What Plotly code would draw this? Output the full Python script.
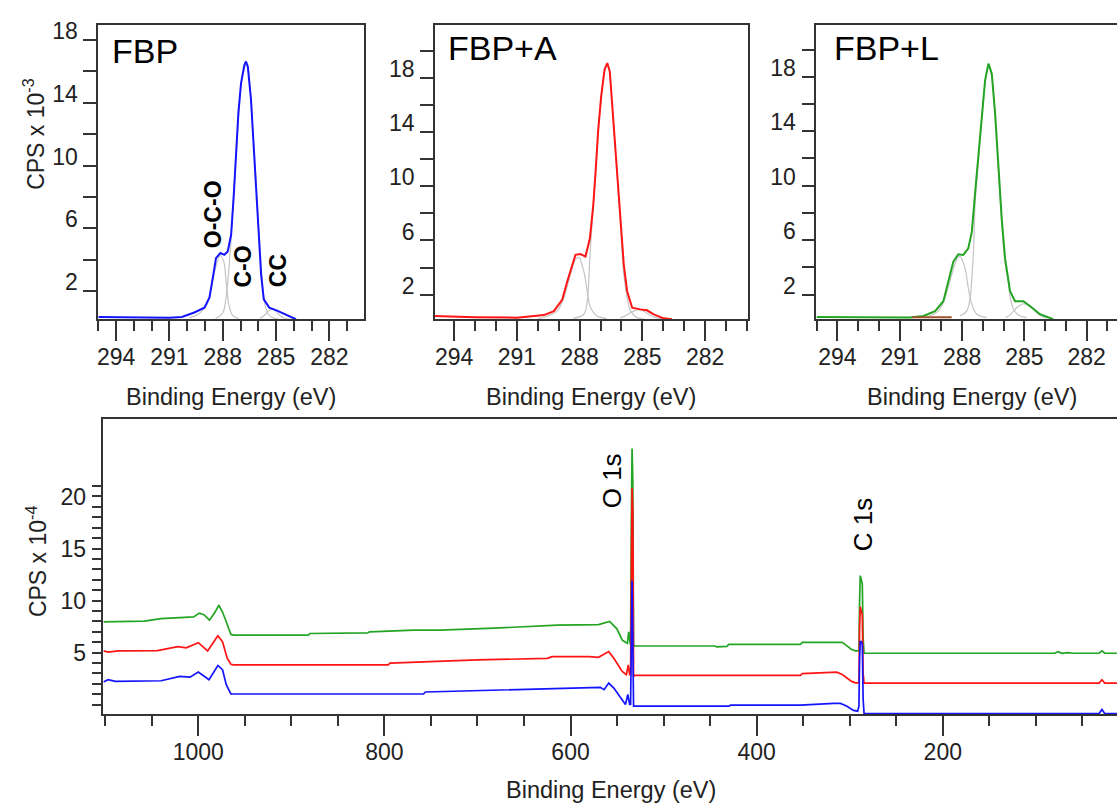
import plotly.graph_objects as go

W, H = 1117, 804

# ---------------- high-resolution C 1s data (CPS x 10^-3) ----------------
# FBP
fbp_be = [295.0, 294.0, 293.0, 292.0, 291.0, 290.3, 289.6, 289.03, 288.75, 288.56, 288.38, 288.13,
          287.91, 287.72, 287.53, 287.38, 287.25, 287.12, 286.97, 286.78, 286.69, 286.59, 286.41,
          286.26, 286.13, 286.0, 285.84, 285.69, 285.38, 284.91, 284.44, 283.88]
fbp_env = [0.35, 0.33, 0.32, 0.3, 0.3, 0.35, 0.63, 0.94, 1.58, 2.84, 4.1, 4.42, 4.31, 4.52, 5.57,
           8.1, 10.63, 13.36, 15.26, 16.42, 16.63, 16.31, 14.21, 11.47, 8.73, 6.0, 3.05, 1.47,
           0.94, 0.73, 0.48, 0.2]
fbp_oco_be = [289.9, 289.4, 289.0, 288.75, 288.55, 288.35, 288.15, 287.95, 287.8, 287.65, 287.45, 287.1]
fbp_oco = [0.3, 0.5, 0.95, 1.6, 2.7, 3.7, 4.25, 3.9, 2.5, 1.1, 0.45, 0.25]
fbp_co_be = [288.4, 288.0, 287.85, 287.7, 287.55, 287.4, 287.25, 287.1, 286.95, 286.75, 286.65,
             286.55, 286.4, 286.25, 286.1, 285.95, 285.8, 285.65, 285.45, 285.2, 284.9]
fbp_co = [0.25, 0.6, 1.3, 2.8, 5.0, 7.9, 10.5, 13.2, 15.2, 16.3, 16.45, 16.1, 14.0, 11.3, 8.5,
          5.6, 3.0, 1.3, 0.55, 0.3, 0.22]
fbp_cc_be = [285.9, 285.6, 285.4, 285.2, 285.0, 284.8, 284.5, 284.2]
fbp_cc = [0.25, 0.5, 0.75, 0.85, 0.7, 0.45, 0.25, 0.2]

# FBP+A
fbpa_be = [295.0, 293.0, 291.0, 290.35, 289.71, 289.23, 288.83, 288.59, 288.35, 288.2, 287.96,
           287.72, 287.51, 287.35, 287.24, 287.11, 286.97, 286.81, 286.68, 286.56, 286.45, 286.29,
           286.13, 286.02, 285.89, 285.73, 285.49, 285.1, 284.78, 284.46, 283.99, 283.59]
fbpa_env = [0.42, 0.33, 0.3, 0.42, 0.49, 0.78, 1.64, 2.98, 4.2, 4.94, 4.99, 4.81, 6.16, 8.6, 11.04,
            14.22, 16.66, 18.61, 19.1, 18.49, 16.17, 12.75, 9.33, 6.64, 4.2, 2.25, 1.03, 0.91,
            0.84, 0.54, 0.25, 0.18]
fbpa_oco_be = [290.0, 289.55, 289.07, 288.75, 288.44, 288.2, 288.04, 287.8, 287.64, 287.48, 287.16, 286.7]
fbpa_oco = [0.22, 0.4, 0.8, 1.8, 3.5, 4.6, 4.75, 3.7, 2.25, 1.05, 0.42, 0.22]
fbpa_co_be = [288.3, 287.8, 287.64, 287.56, 287.48, 287.35, 287.24, 287.11, 286.97, 286.81, 286.68,
              286.56, 286.45, 286.29, 286.13, 286.02, 285.89, 285.73, 285.57, 285.25, 284.9]
fbpa_co = [0.25, 0.55, 1.5, 3.2, 5.6, 8.3, 10.8, 14.0, 16.5, 18.5, 19.0, 18.4, 16.1, 12.6, 9.1,
           6.4, 3.5, 1.8, 0.8, 0.3, 0.2]
fbpa_cc_be = [286.05, 285.8, 285.57, 285.3, 285.1, 284.9, 284.65, 284.38, 284.0]
fbpa_cc = [0.28, 0.45, 0.66, 0.85, 0.88, 0.75, 0.5, 0.3, 0.2]

# FBP+L
fbpl_be = [295.0, 293.0, 291.0, 290.51, 289.86, 289.3, 288.9, 288.66, 288.42, 288.18, 287.94, 287.7,
           287.53, 287.37, 287.21, 287.05, 286.89, 286.73, 286.57, 286.41, 286.25, 286.09, 285.93,
           285.69, 285.45, 285.05, 284.73, 284.25, 283.61]
fbpl_env = [0.35, 0.33, 0.3, 0.31, 0.42, 0.78, 1.51, 2.96, 4.42, 4.96, 4.91, 5.4, 6.6, 9.51, 12.42,
            15.33, 17.76, 18.97, 18.24, 15.33, 11.45, 7.58, 4.67, 2.24, 1.51, 1.51, 1.15, 0.55, 0.18]
fbpl_oco_be = [289.7, 289.14, 288.82, 288.5, 288.25, 288.1, 287.86, 287.7, 287.53, 287.29, 286.81]
fbpl_oco = [0.35, 0.8, 1.76, 3.45, 4.6, 4.8, 3.94, 2.49, 1.27, 0.55, 0.3]
fbpl_co_be = [288.1, 287.78, 287.61, 287.53, 287.45, 287.37, 287.21, 287.05, 286.89, 286.73, 286.57,
              286.41, 286.25, 286.09, 285.93, 285.77, 285.69, 285.53, 285.29, 284.89]
fbpl_co = [0.42, 0.78, 1.76, 3.2, 5.15, 8.7, 12.0, 15.0, 17.6, 18.8, 18.0, 15.0, 11.1, 7.2, 4.3,
           2.9, 1.9, 0.95, 0.5, 0.3]
fbpl_cc_be = [285.9, 285.69, 285.37, 285.1, 284.97, 284.65, 284.33, 283.93]
fbpl_cc = [0.3, 0.5, 1.03, 1.3, 1.3, 1.0, 0.55, 0.25]
fbpl_bg_be = [290.4, 288.5]
fbpl_bg = [0.32, 0.32]

# ---------------- survey spectra (CPS x 10^-4) ----------------
surv_green_be = [1102, 1060, 1058, 1040, 1005, 999, 994, 988, 982, 978, 974, 970, 965, 962, 882, 880,
                 818, 816, 768, 740, 682, 614, 570, 558, 550, 544.5, 539, 537.5, 536, 535.5, 534.7,
                 533.9, 533.1, 532.3, 531, 445, 443, 432, 430, 353, 351, 308, 302, 298, 294, 290.1,
                 289.4, 288.7, 287.6, 286.5, 285.6, 284.6, 80, 76, 72, 66, 60, 32, 29, 26, 12.8]
surv_green = [8.96, 8.96, 9.02, 9.27, 9.43, 9.8, 9.65, 9.12, 9.9, 10.55, 9.9, 8.96, 7.75, 7.69, 7.69,
              7.84, 7.9, 8.0, 8.17, 8.17, 8.35, 8.64, 8.7, 9.0, 8.26, 7.21, 6.89, 8.0, 6.89, 6.9,
              18.5, 25.6, 22.4, 6.74, 6.64, 6.64, 6.55, 6.6, 6.8, 6.8, 6.98, 6.98, 6.58, 6.3, 6.17,
              6.17, 11.0, 13.4, 13.0, 12.6, 7.4, 5.94, 5.94, 6.1, 5.94, 6.0, 5.94, 5.94, 6.17, 5.94,
              5.94]
surv_red_be = [1102, 1097, 1086, 1044, 1022, 1013, 1000, 990, 979, 974, 969, 965, 962, 796, 794, 740,
               700, 625, 620, 580, 570, 559, 553.5, 544.5, 540, 538, 536.5, 535.5, 534.7, 533.9,
               533.1, 532.3, 531, 353, 351, 345, 314, 308, 303, 298, 294, 290.1, 289.4, 288.7, 287.6,
               286.5, 285.6, 284.6, 32, 29, 26, 12.8]
surv_red = [6.17, 6.05, 6.17, 6.2, 6.57, 6.46, 6.96, 6.17, 7.62, 7.05, 5.46, 4.89, 4.83, 4.83, 4.99,
            5.15, 5.3, 5.45, 5.62, 5.62, 5.55, 6.1, 5.46, 4.2, 3.88, 4.83, 3.88, 3.88, 15.5, 21.8,
            19.5, 3.72, 3.81, 3.81, 3.98, 4.0, 4.13, 3.9, 3.56, 3.24, 3.1, 3.1, 8.5, 10.4, 10.0, 9.6,
            4.0, 3.08, 3.08, 3.4, 3.08, 3.08]
surv_blue_be = [1102, 1097, 1089, 1040, 1020, 1009, 1000, 988.5, 979, 974, 970, 965, 962, 758, 756,
                702, 648, 614, 568, 564, 559, 553.5, 544.5, 541, 538.5, 536.5, 535.5, 534.7, 533.9,
                533.1, 532.3, 531, 430, 428, 353, 317, 310, 303, 296, 291.5, 290.1, 289.4, 288.7,
                287.6, 286.5, 285.6, 284.6, 32, 29, 26, 12.8]
surv_blue = [3.18, 3.4, 3.25, 3.3, 3.72, 3.65, 4.13, 3.4, 4.77, 4.36, 2.93, 2.04, 2.03, 2.03, 2.22,
             2.35, 2.54, 2.6, 2.67, 2.45, 3.08, 2.6, 1.5, 1.02, 1.98, 1.02, 1.02, 10.0, 12.9, 7.0,
             0.86, 0.86, 0.86, 0.96, 0.96, 1.12, 1.12, 0.86, 0.45, 0.38, 0.86, 5.5, 7.05, 7.05, 6.8,
             1.5, 0.15, 0.15, 0.55, 0.15, 0.15]

# tick labels
hr_ticks = [294, 291, 288, 285, 282]
hr_yticks = [2, 6, 10, 14, 18]
sv_ticks = [1000, 800, 600, 400, 200]
sv_yticks = [5, 10, 15, 20]

BLUE, RED, GREEN, GRAY = "#1414ff", "#ff1414", "#23a523", "#c4c4c4"
AX = "#333333"
FONT = "Liberation Sans, Arial, sans-serif"

fig = go.Figure()


def add(xs, ys, color, width, ax, shape="linear"):
    fig.add_trace(go.Scatter(x=xs, y=ys, mode="lines", xaxis="x" + ax, yaxis="y" + ax,
                             line=dict(color=color, width=width, shape=shape),
                             hoverinfo="skip", showlegend=False))


panels = [
    ("", [(fbp_oco_be, fbp_oco), (fbp_co_be, fbp_co), (fbp_cc_be, fbp_cc)], (fbp_be, fbp_env), BLUE),
    ("2", [(fbpa_oco_be, fbpa_oco), (fbpa_co_be, fbpa_co), (fbpa_cc_be, fbpa_cc)], (fbpa_be, fbpa_env), RED),
    ("3", [(fbpl_oco_be, fbpl_oco), (fbpl_co_be, fbpl_co), (fbpl_cc_be, fbpl_cc)], (fbpl_be, fbpl_env), GREEN),
]
for ax, comps, env, col in panels:
    for bx, by in comps:
        add(bx, by, GRAY, 1.2, ax, "spline")
    add(env[0], env[1], col, 2, ax)
add(fbpl_bg_be, fbpl_bg, "#a0522d", 2, "3")

add(surv_green_be, surv_green, GREEN, 1.7, "4")
add(surv_red_be, surv_red, RED, 1.7, "4")
add(surv_blue_be, surv_blue, BLUE, 1.7, "4")


def xd(a, b):
    return [a / W, b / W]


def yd(top, bottom):
    return [1 - bottom / H, 1 - top / H]


tickfont = dict(family=FONT, size=23, color="#222222")
common = dict(showline=True, linecolor=AX, linewidth=1.5, ticks="outside", tickcolor=AX,
              tickwidth=1.5, showgrid=False, zeroline=False, tickfont=tickfont, fixedrange=True)


def hr_x(dom, rng, anchor):
    return dict(common, domain=dom, range=rng, anchor=anchor, mirror=True, tickmode="array",
                tickvals=hr_ticks, ticktext=[str(t) for t in hr_ticks], ticklen=20,
                ticklabelstandoff=-4,
                minor=dict(tickmode="array", tickvals=list(range(280, 296)), ticklen=10,
                           ticks="outside", tickcolor=AX, tickwidth=1.5))


def hr_y(dom, rng, anchor, mirror):
    return dict(common, domain=dom, range=rng, anchor=anchor, mirror=mirror, tickmode="array",
                tickvals=hr_yticks, ticktext=[str(t) for t in hr_yticks], ticklen=13,
                ticklabelshift=-9, ticklabelstandoff=1,
                minor=dict(tickmode="array", tickvals=[4, 8, 12, 16, 20], ticklen=13,
                           ticks="outside", tickcolor=AX, tickwidth=1.5))


top_dom = yd(18.3, 315)
fig.update_layout(
    width=W, height=H, margin=dict(l=0, r=0, t=0, b=0),
    paper_bgcolor="white", plot_bgcolor="white", showlegend=False, hovermode=False,
    xaxis=hr_x(xd(97.3, 363.3), [295.01, 280.05], "y"),
    yaxis=hr_y(top_dom, [0.2, 18.95], "x", True),
    xaxis2=hr_x(xd(434.3, 747.7), [294.92, 279.95], "y2"),
    yaxis2=hr_y(top_dom, [0.18, 21.9], "x2", True),
    xaxis3=hr_x(xd(816, 1117), [295.02, 280.54], "y3"),
    yaxis3=hr_y(top_dom, [0.18, 21.8], "x3", False),
    xaxis4=dict(common, domain=xd(102.5, 1117), range=[1102, 12.8], anchor="y4", mirror=True,
                tickmode="array", tickvals=sv_ticks, ticktext=[str(t) for t in sv_ticks],
                ticklen=20, ticklabelstandoff=-3,
                minor=dict(tickmode="array", tickvals=[v for v in range(50, 1101, 50) if v % 200],
                           ticklen=10, ticks="outside", tickcolor=AX, tickwidth=1.5)),
    yaxis4=dict(common, domain=yd(416, 713.3), range=[0.1, 28.4], anchor="x4", mirror=False,
                tickmode="array", tickvals=sv_yticks, ticktext=[str(t) for t in sv_yticks],
                ticklen=10, ticklabelshift=-10, ticklabelstandoff=1,
                minor=dict(tickmode="array", tickvals=list(range(1, 23)), ticklen=10,
                           ticks="outside", tickcolor=AX, tickwidth=1.5)),
)


def note(text, x, y, size, angle=0, bold=False, family=FONT, xanchor="center", color="#111111"):
    if bold:
        text = "<b>" + text + "</b>"
    fig.add_annotation(text=text, x=x / W, y=1 - y / H, xref="paper", yref="paper",
                       xanchor=xanchor, yanchor="middle", showarrow=False, textangle=angle,
                       font=dict(family=family, size=size, color=color))


# axis titles
for cx in (230.5, 590.5, 972):
    note("Binding Energy (eV)", cx, 393, 23.5, color="#222222")
note("Binding Energy (eV)", 611, 790, 23.5, color="#222222")
note("CPS x 10<sup>-3</sup>", 33, 128, 23, angle=-90, color="#222222")
note("CPS x 10<sup>-4</sup>", 36, 559, 23, angle=-90, color="#222222")

# panel labels
note("FBP", 109, 44, 34, xanchor="left", color="#000000")
note("FBP+A", 445, 41, 34, xanchor="left", color="#000000")
note("FBP+L", 832, 41, 34, xanchor="left", color="#000000")

# component labels
note("O-C-O", 211.7, 209.5, 23, angle=-90, bold=True, color="#000000")
note("C-O", 242.5, 261.5, 23, angle=-90, bold=True, color="#000000")
note("CC", 278, 265.7, 23, angle=-90, bold=True, color="#000000")

# survey peak labels
note("O 1s", 611.5, 477.5, 26, angle=-90, color="#000000")
note("C 1s", 863.5, 522, 26, angle=-90, color="#000000")

fig.write_html("out.html", config={"displayModeBar": False},
               post_script="document.body.style.margin='0';")
